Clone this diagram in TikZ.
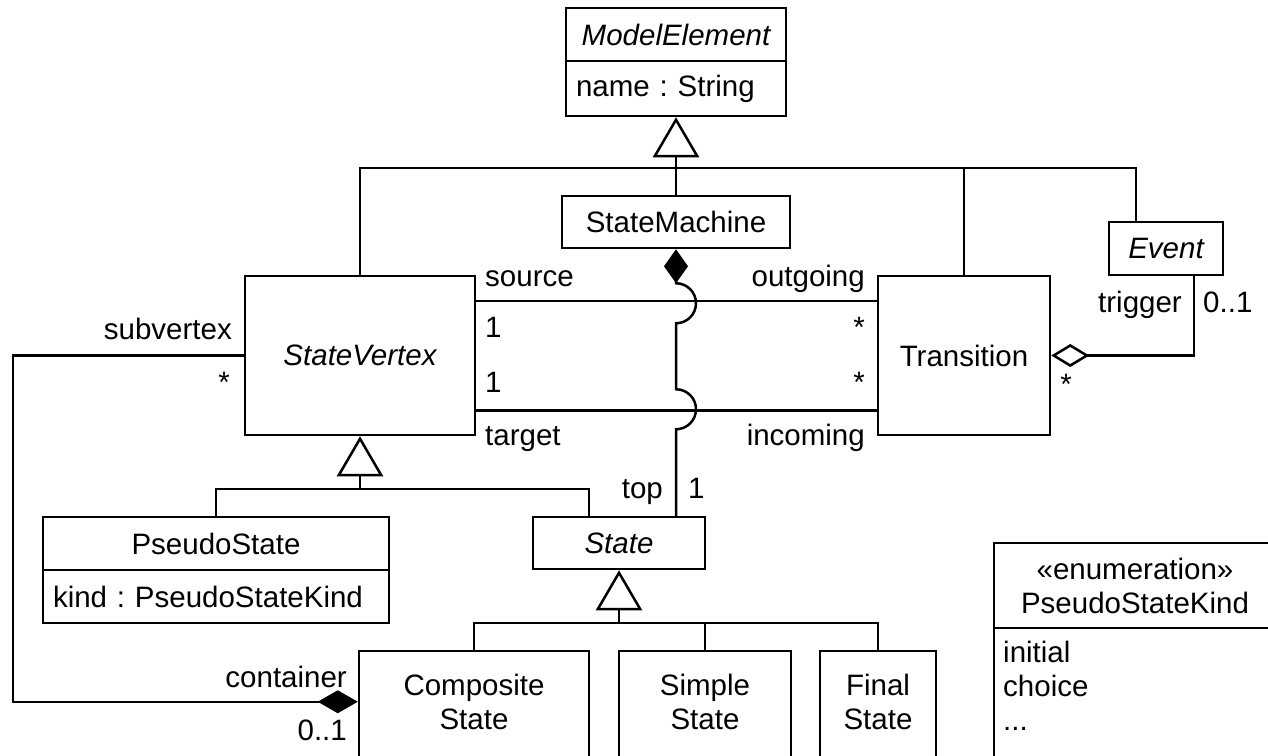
\documentclass[tikz,border=0pt]{standalone}
\usepackage{fontspec}
\setmainfont{Liberation Sans}
\usetikzlibrary{arrows.meta,calc}
\tikzset{
  txt/.style={font=\fontsize{29.5}{34}\selectfont\frenchspacing, inner sep=0pt},
  box/.style={txt, draw, line width=2.5pt, inner sep=0pt},
  attr/.style={box, align=left, inner xsep=10pt},
  lbl/.style={txt},
  line/.style={line width=2.5pt},
  gen/.style={line, -{Triangle[open, length=40pt, width=46pt]}},
  compo/.style={line, -{Diamond[length=40pt, width=23pt]}},
  aggr/.style={line, -{Diamond[open, length=38pt, width=23pt]}}
}
\begin{document}
\begin{tikzpicture}[x=1pt, y=-1pt]
\useasboundingbox (0,0) rectangle (1268,755);
\clip (0,0) rectangle (1268,755);
% classes
\node[box, minimum width=220, minimum height=53] (mehead) at (676,34.5) {\itshape ModelElement};
\node[attr, text width=200, minimum height=55] (meattr) at (676,88.5) {name : String};
\node[box, minimum width=228, minimum height=52] (smachine) at (676,222) {StateMachine};
\node[box, minimum width=114, minimum height=53] (event) at (1166,248.5) {\itshape Event};
\node[box, minimum width=230, minimum height=159] (sv) at (360,355.5) {\itshape StateVertex};
\node[box, minimum width=172, minimum height=159] (trans) at (964,355.5) {Transition};
\node[box, minimum width=346, minimum height=53] (psh) at (216,543.5) {PseudoState};
\node[attr, text width=326, minimum height=53] (psattr) at (216,596.5) {kind : PseudoStateKind};
\node[box, minimum width=172, minimum height=52] (stateb) at (619,543) {\itshape State};
\node[box, minimum width=230, minimum height=150] (comp) at (474,726) {};
\node[box, minimum width=172, minimum height=150] (simple) at (705,726) {};
\node[box, minimum width=116, minimum height=150] (final) at (878,726) {};
\node[txt, align=center] (comptxt) at (474,702) {Composite\\State};
\node[txt, align=center] (simpletxt) at (705,702) {Simple\\State};
\node[txt, align=center] (finaltxt) at (878,702) {Final\\State};
\node[box, align=center, minimum width=282, minimum height=85] (enumh) at (1135,585.5) {«enumeration»\\PseudoStateKind};
\node[box, minimum width=282, minimum height=172] (enumb) at (1135,714) {};
\node[txt, align=left, anchor=north west] (enumlits) at (1003,641) {initial\\choice\\...};
% generalization to ModelElement
\coordinate (genbar) at (676,168);
\draw[gen] (genbar) -- (meattr.south);
\draw[line] (sv.north) |- (genbar) -| ($(event.north west)+(28,0)$);
\draw[line] (smachine.north) -- (genbar);
\draw[line] (trans.north) -- (trans.north |- genbar);
% generalization to StateVertex
\coordinate (svbar) at (360,489);
\draw[gen] (svbar) -- (sv.south);
\draw[line] (psh.north) |- (svbar) -| ($(stateb.north west)+(57,0)$);
% generalization to State
\coordinate (stbar) at (619,623);
\draw[gen] (stbar) -- (stateb.south);
\draw[line] (comp.north) |- (stbar) -| (final.north);
\draw[line] (simple.north) -- (simple.north |- stbar);
% associations source / target
\draw[line] ($(sv.north east)+(0,26)$) -- ($(trans.north west)+(0,26)$);
\draw[line] ($(sv.south east)+(0,-26)$) -- ($(trans.south west)+(0,-26)$);
% composition StateMachine - State (top)
\draw[line, {Diamond[length=34pt, width=24pt]}-] (smachine.south) -- ++(0,34)
  arc[start angle=-90, end angle=90, radius=20] -- ++(0,66)
  arc[start angle=-90, end angle=90, radius=20] -- (smachine.south |- stateb.north);
% trigger aggregation
\draw[aggr] ($(event.south west)+(86,0)$) |- (trans.east);
% containment
\draw[compo] (sv.west) -- ++(-231,0) |- ($(comp.north west)+(0,52)$);
% labels
\node[lbl, anchor=base west] (lsource) at (485,286) {source};
\node[lbl, anchor=base west] (lsrcm) at (485,337) {1};
\node[lbl, anchor=base west] (ltgtm) at (485,392) {1};
\node[lbl, anchor=base west] (ltarget) at (485,445) {target};
\node[lbl, anchor=base east] (lout) at (865,286) {outgoing};
\node[lbl, anchor=base east] (loutm) at (865,337) {*};
\node[lbl, anchor=base east] (linm) at (865,392) {*};
\node[lbl, anchor=base east] (lin) at (865,445) {incoming};
\node[lbl, anchor=base east] (lsub) at (232,339) {subvertex};
\node[lbl, anchor=base east] (lsubm) at (230,392) {*};
\node[lbl, anchor=base east] (ltrig) at (1182,312) {trigger};
\node[lbl, anchor=base west] (ltrigm) at (1203,312) {0..1};
\node[lbl, anchor=base] (ltransm) at (1066,394) {*};
\node[lbl, anchor=base east] (ltop) at (663,498) {top};
\node[lbl, anchor=base west] (ltopm) at (688,498) {1};
\node[lbl, anchor=base east] (lcont) at (347,687) {container};
\node[lbl, anchor=base east] (lcontm) at (347,740) {0..1};
\end{tikzpicture}
\end{document}
